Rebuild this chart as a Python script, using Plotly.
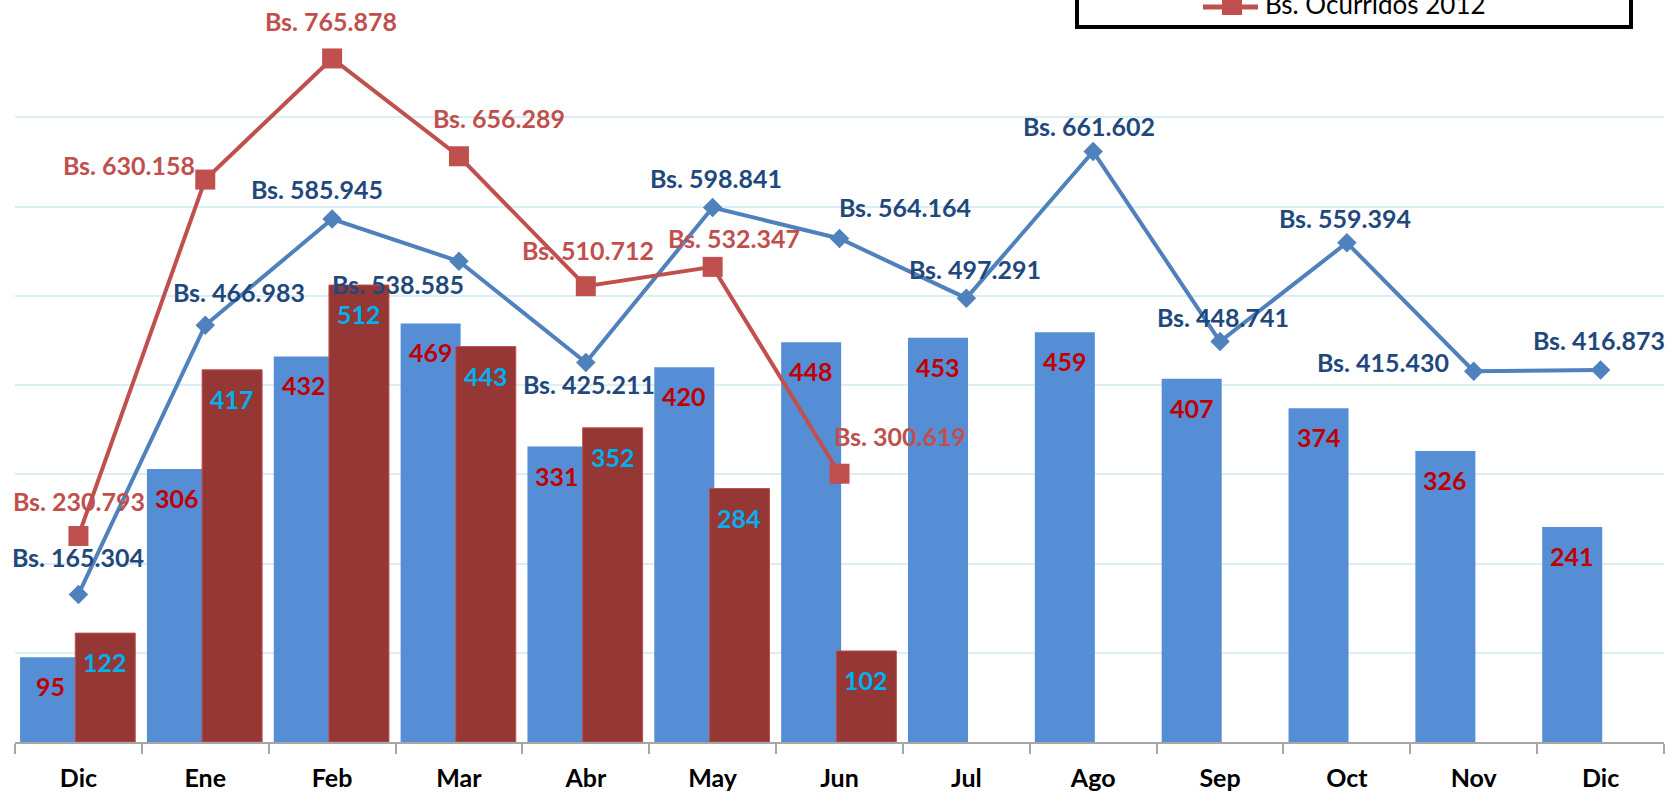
import plotly.graph_objects as go

# ---------------- data ----------------
months = ["Dic", "Ene", "Feb", "Mar", "Abr", "May", "Jun", "Jul", "Ago", "Sep", "Oct", "Nov", "Dic"]
count_2011 = [95, 306, 432, 469, 331, 420, 448, 453, 459, 407, 374, 326, 241]
count_2012 = [122, 417, 512, 443, 352, 284, 102]
bs_2011 = [165304, 466983, 585945, 538585, 425211, 598841, 564164, 497291, 661602, 448741, 559394, 415430, 416873]
bs_2012 = [230793, 630158, 765878, 656289, 510712, 532347, 300619]

# ---------------- style / label placement (pixels) ----------------
FONT = "Lato"
BLUE_BAR = "#558ED5"
RED_BAR = "#953735"
BLUE_LINE = "#4F81BD"
RED_LINE = "#C0504D"
BLUE_LBL = "#1F497D"
RED_LBL = "#C0504D"
GRID = "#DAEEF3"
FS = 25

blue_off = [(0, -37), (34, -33), (-15, -30), (-61, 23), (3, 21), (3, -30), (65, -31),
            (9, -29), (-4, -26), (3, -25), (-2, -25), (-91, -9), (-2, -30)]
red_off = [(1, -35), (-76, -15), (-1, -37), (40, -38), (2, -36), (21, -29), (60, -38)]

BAR_W = 0.473
BLUE_OFF = -0.46
RED_OFF = -0.025

x1 = list(range(len(months)))
x2 = list(range(len(count_2012)))

fig = go.Figure()
fig.add_trace(go.Bar(x=x1, y=count_2011, name="2011", marker=dict(color=BLUE_BAR, line=dict(width=0)),
                     width=BAR_W, offset=BLUE_OFF, showlegend=False))
fig.add_trace(go.Bar(x=x2, y=count_2012, name="2012",
                     marker=dict(color=RED_BAR, line=dict(color="#C0504D", width=1)),
                     width=BAR_W, offset=RED_OFF, showlegend=False))
fig.add_trace(go.Scatter(x=x1, y=bs_2011, name="Bs. Ocurridos 2011", yaxis="y2", mode="lines+markers",
                         line=dict(color=BLUE_LINE, width=4),
                         marker=dict(symbol="diamond", size=15, color=BLUE_LINE), showlegend=False,
                         cliponaxis=False))
fig.add_trace(go.Scatter(x=x2, y=bs_2012, name="Bs. Ocurridos 2012", yaxis="y2", mode="lines+markers",
                         line=dict(color=RED_LINE, width=4),
                         marker=dict(symbol="square", size=20, color=RED_LINE), showlegend=False,
                         cliponaxis=False))

def fmt(v):
    return "Bs. " + f"{v:,}".replace(",", ".")

ann = []
lblfont = dict(family=FONT, size=FS, weight="bold")
# bar labels
for i, v in enumerate(count_2011):
    ann.append(dict(x=i + BLUE_OFF + BAR_W / 2, y=v, xref="x", yref="y", text=str(v), showarrow=False,
                    yshift=-29, yanchor="middle", font=dict(lblfont, color="#C00000")))
for i, v in enumerate(count_2012):
    ann.append(dict(x=i + RED_OFF + BAR_W / 2, y=v, xref="x", yref="y", text=str(v), showarrow=False,
                    yshift=-29, yanchor="middle", font=dict(lblfont, color="#00B0F0")))
# line labels
for i, v in enumerate(bs_2011):
    dx, dy = blue_off[i]
    ann.append(dict(x=i, y=v, xref="x", yref="y2", text=fmt(v), showarrow=False,
                    xshift=dx, yshift=-dy, yanchor="middle", font=dict(lblfont, color=BLUE_LBL)))
for i, v in enumerate(bs_2012):
    dx, dy = red_off[i]
    ann.append(dict(x=i, y=v, xref="x", yref="y2", text=fmt(v), showarrow=False,
                    xshift=dx, yshift=-dy, yanchor="middle", font=dict(lblfont, color=RED_LBL)))

# legend (top cut off, as in the reference)
L, T, PW, PH = 15, 28, 1649, 714
def px(x):
    return (x - L) / PW
def py(y):
    return (T + PH - y) / PH

ann.append(dict(x=px(1263), y=py(4), xref="paper", yref="paper", text="Bs. Ocurridos 2012",
                showarrow=False, xanchor="left", yanchor="middle",
                font=dict(family=FONT, size=26, color="black")))
shapes = [
    dict(type="rect", xref="paper", yref="paper", x0=px(1077), x1=px(1631), y0=py(-60), y1=py(27),
         line=dict(color="black", width=4), fillcolor="white", layer="above"),
    dict(type="line", xref="paper", yref="paper", x0=px(1203), x1=px(1258), y0=py(7), y1=py(7),
         line=dict(color=RED_LINE, width=5), layer="above"),
    dict(type="rect", xref="paper", yref="paper", x0=px(1222), x1=px(1242), y0=py(-5), y1=py(15),
         line=dict(width=0), fillcolor=RED_LINE, layer="above"),
]

fig.update_layout(
    width=1671, height=792,
    margin=dict(l=L, r=1671 - L - PW, t=T, b=792 - T - PH, autoexpand=False),
    paper_bgcolor="white", plot_bgcolor="white",
    barmode="overlay",
    annotations=ann, shapes=shapes,
    xaxis=dict(range=[-0.5, 12.5], tickmode="array", tickvals=x1, ticktext=months,
               ticks="outside", ticklen=10, tickcolor="rgba(0,0,0,0)",
               ticklabelstandoff=3,
               tickfont=dict(family=FONT, size=FS, weight="bold", color="black"),
               showline=True, linecolor="#A6A6A6", linewidth=1.5, showgrid=False, zeroline=False,
               minor=dict(tick0=-0.5, dtick=1, ticks="outside", ticklen=10, tickcolor="#A6A6A6",
                          tickwidth=1.5, showgrid=False)),
    yaxis=dict(range=[0, 800], dtick=100, showgrid=True, gridcolor=GRID, gridwidth=1.5,
               showticklabels=False, zeroline=False, ticks=""),
    yaxis2=dict(range=[0, 800000], overlaying="y", side="right", showgrid=False,
                showticklabels=False, zeroline=False, ticks=""),
)

fig.write_html("out.html", config={"displayModeBar": False},
               post_script="document.body.style.margin='0';")
